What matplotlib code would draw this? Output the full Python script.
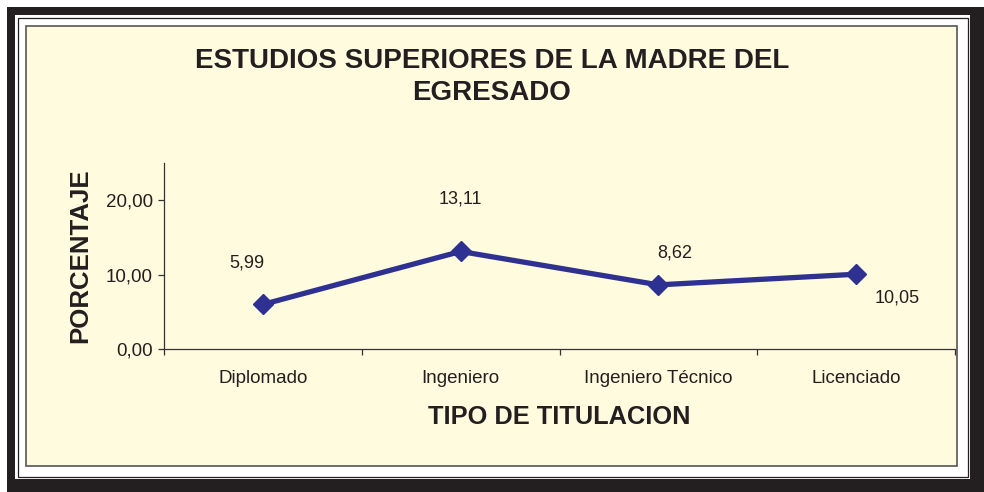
import matplotlib
matplotlib.use('Agg')
import matplotlib.pyplot as plt
from matplotlib.patches import Rectangle

plt.rcParams['font.family'] = ['Liberation Sans', 'DejaVu Sans']

# %% data
categories = ['Diplomado', 'Ingeniero', 'Ingeniero Técnico', 'Licenciado']
values = [5.99, 13.11, 8.62, 10.05]
value_labels = ['5,99', '13,11', '8,62', '10,05']
yticks = [0, 10, 20]
ytick_labels = ['0,00', '10,00', '20,00']

# label offsets in points (dx, dy)
label_offsets = [(-11.5, 30), (0, 38), (12, 23), (29.5, -17)]

W, H = 984, 492
fig = plt.figure(figsize=(W / 100, H / 100), dpi=100)
fig.patch.set_facecolor('white')


def rect(x0, y0, x1, y1, **kw):
    # pixel coords measured from top-left
    fig.patches.append(Rectangle((x0, H - y1), x1 - x0, y1 - y0, transform=None, zorder=-5, **kw))


# frame with shadow
rect(7, 7, 984, 492, facecolor='#231f20', edgecolor='none')
rect(15, 15, 970, 479, facecolor='white', edgecolor='none')
rect(17.5, 17.5, 967.5, 476.5, facecolor='none', edgecolor='#231f20', linewidth=0.9)
rect(26, 26, 957, 466, facecolor='#fffbde', edgecolor='#555555', linewidth=1.2)

# %% plot
ax = fig.add_axes([164 / W, (H - 349) / H, 791 / W, (349 - 163) / H])
ax.set_facecolor('none')
x = range(len(categories))
ax.plot(x, values, color='#2e3192', linewidth=3.8, marker='D', markersize=10,
        markerfacecolor='#2e3192', markeredgecolor='#2e3192', solid_joinstyle='miter')

for xi, v, lab, off in zip(x, values, value_labels, label_offsets):
    ax.annotate(lab, (xi, v), xytext=off, textcoords='offset points',
                ha='center', va='center', fontsize=13, color='#231f20')

ax.set_xlim(-0.5, len(categories) - 0.5)
ax.set_ylim(0, 25)
ax.set_yticks(yticks)
ax.set_yticklabels(ytick_labels, fontsize=13.5, color='#231f20')
ax.set_xticks([i - 0.5 for i in range(len(categories) + 1)])
ax.set_xticklabels([])
ax.set_xticks(list(x), minor=True)
ax.set_xticklabels(categories, minor=True, fontsize=13.5, color='#231f20')
ax.tick_params(axis='x', which='minor', length=0, pad=15)
ax.tick_params(axis='both', which='major', length=4, width=0.9, color='#333333', direction='out')
ax.tick_params(axis='y', pad=4)
for s in ['top', 'right']:
    ax.spines[s].set_visible(False)
for s in ['left', 'bottom']:
    ax.spines[s].set_color('#333333')
    ax.spines[s].set_linewidth(0.9)

ax.set_xlabel('TIPO DE TITULACION', fontsize=18.3, fontweight='bold', color='#231f20', labelpad=13)
ax.set_ylabel('PORCENTAJE', fontsize=18.6, fontweight='bold', color='#231f20', labelpad=10)

fig.text(492 / W, (H - 77) / H, 'ESTUDIOS SUPERIORES DE LA MADRE DEL\nEGRESADO', ha='center', va='center',
         fontsize=20, fontweight='bold', color='#231f20', linespacing=1.35)

fig.savefig('out.png', dpi=100)
